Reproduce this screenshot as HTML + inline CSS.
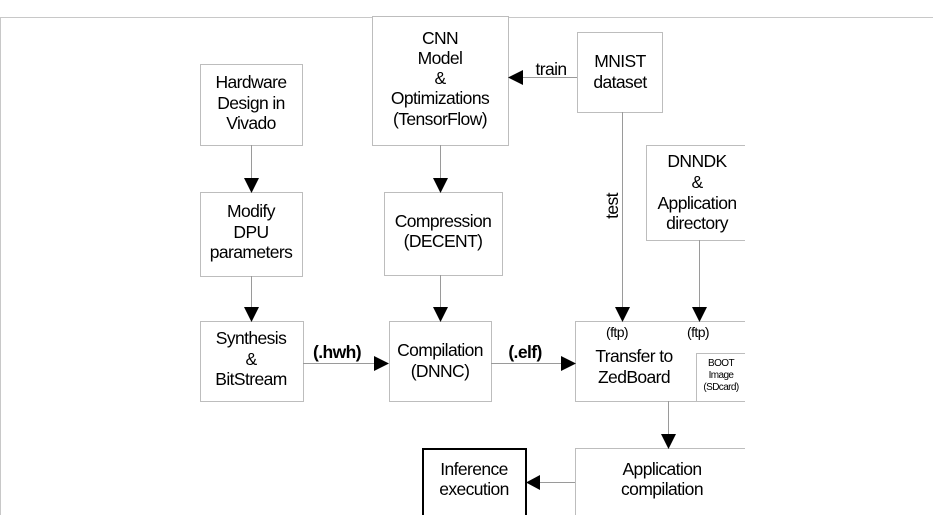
<!DOCTYPE html>
<html><head><meta charset="utf-8"><style>
html,body{margin:0;padding:0;background:#fff;width:933px;height:515px;overflow:hidden}
svg{display:block}
text{font-family:"Liberation Sans",sans-serif;font-size:17.5px;fill:#000;text-anchor:middle;letter-spacing:-0.6px}
.b{fill:#fff;stroke:#bdbdbd;stroke-width:1}
.l{stroke:#9a9a9a;stroke-width:1;fill:none}
</style></head><body>
<svg width="933" height="515" viewBox="0 0 933 515">
<line x1="0" y1="17.5" x2="933" y2="17.5" stroke="#c8c8c8"/>
<line x1="0.5" y1="17" x2="0.5" y2="515" stroke="#c8c8c8"/>
<rect class="b" x="200.5" y="64.5" width="102" height="81"/>
<rect class="b" x="372.5" y="16.5" width="136" height="129"/>
<rect class="b" x="577.5" y="32.5" width="85" height="80"/>
<path class="b" d="M745 145.5H646.5V240.5H745"/>
<rect class="b" x="200.5" y="192.5" width="102" height="84"/>
<rect class="b" x="384.5" y="192.5" width="118" height="83"/>
<rect class="b" x="200.5" y="321.5" width="103" height="80"/>
<rect class="b" x="389.5" y="321.5" width="102" height="80"/>
<path class="b" d="M745 321.5H575.5V401.5H745"/>
<path class="b" d="M745 353.5H696.5V401.5"/>
<path class="b" d="M745 448.5H575.5V515"/>
<path d="M423 515V449H526V515" fill="#fff" stroke="#000" stroke-width="2"/>
<g class="l">
<line x1="251.5" y1="145" x2="251.5" y2="178"/>
<line x1="251.5" y1="276" x2="251.5" y2="307"/>
<line x1="440.5" y1="145" x2="440.5" y2="178"/>
<line x1="440.5" y1="275" x2="440.5" y2="307"/>
<line x1="622.5" y1="112" x2="622.5" y2="307"/>
<line x1="699.5" y1="240" x2="699.5" y2="307"/>
<line x1="668.5" y1="401" x2="668.5" y2="434"/>
<line x1="303" y1="363.5" x2="376" y2="363.5"/>
<line x1="491" y1="363.5" x2="562" y2="363.5"/>
<line x1="577" y1="77.5" x2="522" y2="77.5"/>
<line x1="575" y1="482.5" x2="540" y2="482.5"/>
</g>
<g fill="#000">
<path d="M244 178h15l-7.5 15z"/>
<path d="M244 307h15l-7.5 15z"/>
<path d="M433 178h15l-7.5 15z"/>
<path d="M433 307h15l-7.5 15z"/>
<path d="M615 307h15l-7.5 15z"/>
<path d="M692 307h15l-7.5 15z"/>
<path d="M661 434h15l-7.5 15z"/>
<path d="M374 356v15l15-7.5z"/>
<path d="M561 356v15l15-7.5z"/>
<path d="M523 70v15l-15-7.5z"/>
<path d="M540 475v15l-14-7.5z"/>
</g>
<text x="251" y="88">Hardware</text>
<text x="251" y="109">Design in</text>
<text x="251" y="129">Vivado</text>
<text x="440" y="44">CNN</text>
<text x="440" y="64">Model</text>
<text x="440" y="84">&amp;</text>
<text x="440" y="104">Optimizations</text>
<text x="440" y="125">(TensorFlow)</text>
<text x="620" y="67">MNIST</text>
<text x="620" y="88">dataset</text>
<text x="551" y="75">train</text>
<text x="697" y="167">DNNDK</text>
<text x="697" y="188">&amp;</text>
<text x="697" y="209">Application</text>
<text x="697" y="229">directory</text>
<text x="251" y="217">Modify</text>
<text x="251" y="238">DPU</text>
<text x="251" y="258">parameters</text>
<text x="443" y="227">Compression</text>
<text x="443" y="247">(DECENT)</text>
<text transform="translate(618,206) rotate(-90)">test</text>
<text x="251" y="344">Synthesis</text>
<text x="251" y="365">&amp;</text>
<text x="251" y="385">BitStream</text>
<text x="337" y="358" style="font-weight:bold">(.hwh)</text>
<text x="440" y="356">Compilation</text>
<text x="440" y="377">(DNNC)</text>
<text x="525" y="358" style="font-weight:bold">(.elf)</text>
<text x="617" y="337" style="font-size:14px">(ftp)</text>
<text x="698" y="337" style="font-size:14px">(ftp)</text>
<text x="634" y="362">Transfer to</text>
<text x="634" y="383">ZedBoard</text>
<text x="721" y="366" style="font-size:10px">BOOT</text>
<text x="721" y="378" style="font-size:10px">Image</text>
<text x="721" y="390" style="font-size:10px">(SDcard)</text>
<text x="662" y="475">Application</text>
<text x="662" y="495">compilation</text>
<text x="474" y="475">Inference</text>
<text x="474" y="495">execution</text>
</svg>
</body></html>
